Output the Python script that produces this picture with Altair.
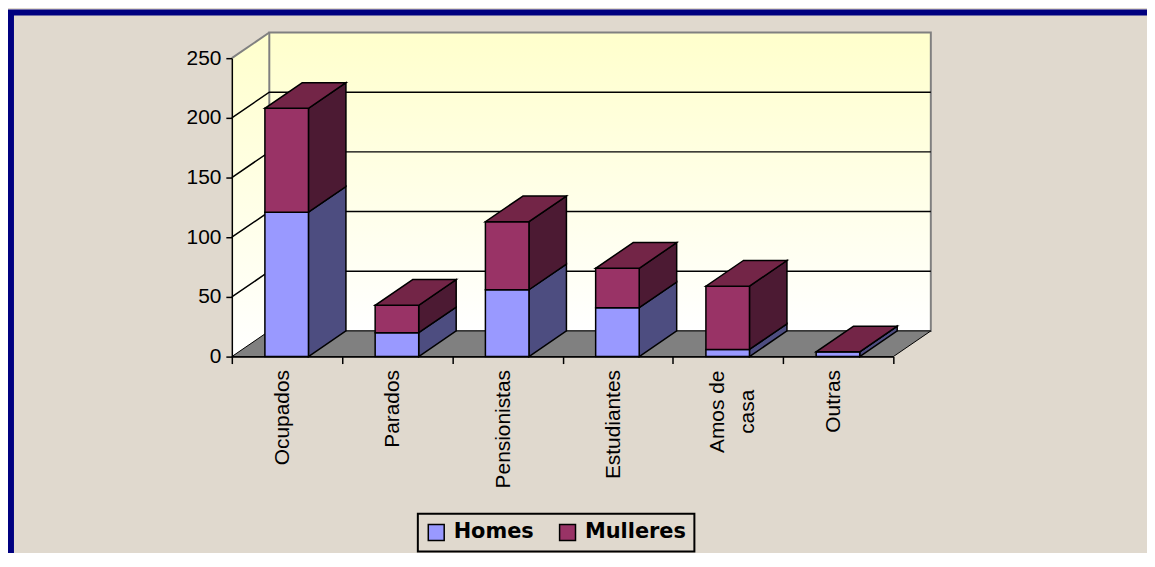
import json
import altair as alt
import pandas as pd

# ---------------- data ----------------
categories = ["Ocupados", "Parados", "Pensionistas", "Estudiantes", "Amos de casa", "Outras"]
x_tick_labels = ["Ocupados", "Parados", "Pensionistas", "Estudiantes", ["Amos de", "casa"], "Outras"]
homes = [121, 20, 56, 41, 6, 4]
mulleres = [87, 23, 57, 33, 53, 0]
series = ["Homes", "Mulleres"]
y_ticks = [0, 50, 100, 150, 200, 250]

# ---------------- geometry / style ----------------
W, H = 665, 300
PAD_L, PAD_T = 225, 49
PAD_R = 1145 - PAD_L - W
PAD_B = 545 - PAD_T - H
BAR_L, BAR_R = 0.30, 0.695      # bar front face within a category slot
DX, DY = 0.34, 21.5              # 3D depth offset (x units, value units)
N = len(categories)
YMAX = y_ticks[-1]

BG = "#E0D9CE"
NAVY = "#000080"
fill_domain = ["Homes", "Mulleres", "Homes side", "Mulleres side", "top"]
fill_range = ["#9999FF", "#993366", "#4D4D80", "#4C1A33", "#732547"]

# ---------------- derived tables ----------------
front_rows, side_rows, top_rows = [], [], []
for i, cat in enumerate(categories):
    base = 0
    for s, vals in zip(series, [homes, mulleres]):
        top = base + vals[i]
        front_rows.append(dict(cat=cat, serie=s, x=i + BAR_L, x2=i + BAR_R, y=base, y2=top))
        fid = f"{i}-{s}"
        side_rows.append(dict(fid=fid, key=s + " side", x=i + BAR_R, y=base, y2=top))
        side_rows.append(dict(fid=fid, key=s + " side", x=i + BAR_R + DX, y=base + DY, y2=top + DY))
        base = top
    top_rows.append(dict(fid=str(i), key="top", y=base, x=i + BAR_L, x2=i + BAR_R))
    top_rows.append(dict(fid=str(i), key="top", y=base + DY, x=i + BAR_L + DX, x2=i + BAR_R + DX))

front_df = pd.DataFrame(front_rows)
side_df = pd.DataFrame(side_rows)
top_df = pd.DataFrame(top_rows)

left_wall = pd.DataFrame(dict(x=[0, DX], y=[0, DY], y2=[YMAX, YMAX + DY]))
back_wall = pd.DataFrame(dict(x=[DX], x2=[N + DX], y=[DY], y2=[YMAX + DY]))
floor_df = pd.DataFrame(dict(y=[0, DY], x=[0, DX], x2=[N, N + DX]))

grid_rows = []
for v in y_ticks[1:-1]:
    for gx, gy in [(0, v), (DX, v + DY), (N + DX, v + DY)]:
        grid_rows.append(dict(v=v, x=gx, y=gy))
grid_df = pd.DataFrame(grid_rows)
edge_df = pd.DataFrame(dict(x=[0, DX], y=[YMAX, YMAX + DY]))

# ---------------- scales / axes ----------------
x_scale = alt.Scale(domain=[0, N], nice=False, zero=False)
y_scale = alt.Scale(domain=[0, YMAX], nice=False, zero=False)
fill_scale = alt.Scale(domain=fill_domain, range=fill_range)

label_expr = json.dumps(x_tick_labels + [""]) + "[datum.value]"
multi_idx = [i for i, l in enumerate(x_tick_labels) if isinstance(l, list)]
multi_test = " || ".join(f"datum.value == {i}" for i in multi_idx) or "false"

x_axis = alt.Axis(
    values=list(range(N + 1)), labelExpr=label_expr, labelAngle=270,
    labelOffset={"condition": {"test": multi_test, "value": 45}, "value": 51},
    tickSize=7, tickWidth=1.5, tickColor="black", domainColor="black", domainWidth=1.5,
    labelFont="Liberation Sans", labelFontSize=21, labelColor="black",
    labelAlign={"condition": {"test": multi_test, "value": "center"}, "value": "right"},
    labelPadding={"condition": {"test": multi_test, "value": 48}, "value": 6},
    labelLineHeight=30,
    labelOverlap=False, labelFlush=False, grid=False, title=None, zindex=1,
)
y_axis = alt.Axis(
    values=y_ticks, tickSize=6, tickWidth=1.5, tickColor="black", domainColor="black",
    domainWidth=1.5, labelFont="Liberation Sans", labelFontSize=21, labelColor="black",
    labelPadding=5, grid=False, title=None, zindex=1,
)

legend = alt.Legend(
    values=series, title=None, orient="none", legendX=187, legendY=458,
    direction="horizontal", symbolType="square", symbolSize=256,
    symbolStrokeColor="black", symbolStrokeWidth=1.5,
    labelFont="DejaVu Sans", labelFontSize=21, labelFontWeight="bold", labelColor="black",
    strokeColor="black", padding=8, columnPadding=22, labelOffset=7,
)

grad = alt.LinearGradient(
    gradient="linear", x1=0, y1=0, x2=0, y2=1,
    stops=[alt.GradientStop(color="#FFFFCC", offset=0), alt.GradientStop(color="#FFFFFF", offset=1)],
)

def X(f="x"):
    return alt.X(f"{f}:Q", scale=x_scale, axis=x_axis, stack=False)

def Y(f="y"):
    return alt.Y(f"{f}:Q", scale=y_scale, axis=y_axis, stack=False)

# ---------------- layers ----------------
border = alt.Chart(pd.DataFrame({"a": [0]})).mark_rect(
    filled=False, stroke=NAVY, strokeWidth=6
).encode(
    x=alt.value(-PAD_L + 3), x2=alt.value(W + PAD_R + 20),
    y=alt.value(-PAD_T + 3), y2=alt.value(H + PAD_B + 20),
)

lw = alt.Chart(left_wall).mark_area(fill=grad, opacity=1).encode(
    x=X(), y=Y(), y2="y2:Q",
)

bw = alt.Chart(back_wall).mark_rect(fill=grad, stroke="#808080", strokeWidth=2).encode(
    x=X(), x2="x2:Q", y=Y(), y2="y2:Q",
)

fl = alt.Chart(floor_df).mark_area(
    orient="horizontal", fill="#808080", stroke="black", strokeWidth=1, opacity=1
).encode(
    y=Y(), x=X(), x2="x2:Q",
)

gl = alt.Chart(grid_df).mark_line(color="black", strokeWidth=1.5).encode(
    x=X(), y=Y(), detail="v:N",
)

ed = alt.Chart(edge_df).mark_line(color="#808080", strokeWidth=2).encode(
    x=X(), y=Y(),
)

sides = alt.Chart(side_df).mark_area(stroke="black", strokeWidth=1.5, opacity=1).encode(
    x=X(), y=Y(), y2="y2:Q",
    fill=alt.Fill("key:N", scale=fill_scale, legend=legend),
    detail="fid:N",
)

fronts = alt.Chart(front_df).mark_rect(stroke="black", strokeWidth=1.5, opacity=1).encode(
    x=X(), x2="x2:Q", y=Y(), y2="y2:Q",
    fill=alt.Fill("serie:N", scale=fill_scale, legend=legend),
)

tops = alt.Chart(top_df).mark_area(
    orient="horizontal", stroke="black", strokeWidth=1.5, opacity=1
).encode(
    y=Y(), x=X(), x2="x2:Q",
    fill=alt.Fill("key:N", scale=fill_scale, legend=legend),
    detail="fid:N",
)

chart = alt.layer(border, lw, bw, fl, gl, ed, sides, fronts, tops).properties(
    width=W, height=H,
    padding={"left": PAD_L, "top": PAD_T, "right": PAD_R, "bottom": PAD_B},
    autosize=alt.AutoSizeParams(type="none"),
).configure(
    background=BG, font="Liberation Sans"
).configure_view(strokeWidth=0).configure_legend(strokeWidth=2)

chart.save("out.html", embed_options={"renderer": "svg", "actions": False})
